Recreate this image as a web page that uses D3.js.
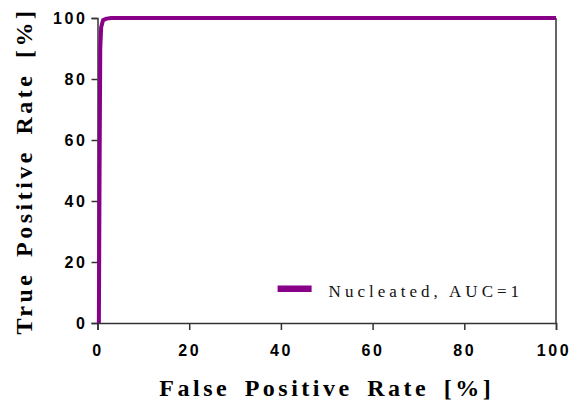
<!DOCTYPE html>
<html>
<head>
<meta charset="utf-8">
<script src="https://cdn.jsdelivr.net/npm/d3@7"></script>
<style>
  body { margin: 0; background: #fff; }
  svg { display: block; }
</style>
</head>
<body>
<div id="chart"></div>
<script>
// ROC curve points (false positive rate %, true positive rate %)
const fpr = [0.3, 0.45, 0.6, 0.8, 1.2, 2, 3, 100];
const tpr = [0, 50, 90, 97, 99.3, 99.8, 100, 100];
const xTicks = [0, 20, 40, 60, 80, 100];
const yTicks = [0, 20, 40, 60, 80, 100];
const seriesName = "Nucleated, AUC=1";

const W = 572, H = 405;
const margin = { top: 18, right: 16, bottom: 82, left: 97.5 };
const width = W - margin.left - margin.right;
const height = H - margin.top - margin.bottom;

const svg = d3.select("#chart")
    .append("svg")
    .attr("width", W)
    .attr("height", H);

const g = svg.append("g")
    .attr("transform", `translate(${margin.left},${margin.top})`);

const x = d3.scaleLinear().domain([0, 100]).range([0, width]);
const y = d3.scaleLinear().domain([0, 100]).range([height, 0]);

const axisColor = "#333";

// x axis
const xAxis = g.append("g")
    .attr("transform", `translate(0,${height})`)
    .call(d3.axisBottom(x).tickValues(xTicks).tickSize(7).tickPadding(15));

// y axis
const yAxis = g.append("g")
    .call(d3.axisLeft(y).tickValues(yTicks).tickSize(6).tickPadding(4));

[xAxis, yAxis].forEach(a => {
    a.select(".domain").attr("stroke", axisColor).attr("stroke-width", 1.5);
    a.selectAll(".tick line").attr("stroke", axisColor).attr("stroke-width", 1.5);
    a.selectAll(".tick text")
        .attr("fill", "#000")
        .attr("font-family", "'Liberation Sans', Arial, sans-serif")
        .attr("font-weight", "bold")
        .attr("font-size", "16px")
        .style("letter-spacing", "2.6px");
});
// keep the last x label inside the page edge
xAxis.selectAll(".tick text").filter(d => d === 100).attr("dx", -2.5);

// right border
g.append("line")
    .attr("x1", width).attr("x2", width)
    .attr("y1", 0).attr("y2", height)
    .attr("stroke", axisColor)
    .attr("stroke-width", 1.5);

// ROC curve
const pts = fpr.map((d, i) => [d, tpr[i]]);
g.append("path")
    .datum(pts)
    .attr("fill", "none")
    .attr("stroke", "#880088")
    .attr("stroke-width", 4)
    .attr("stroke-linejoin", "round")
    .attr("d", d3.line().x(d => x(d[0])).y(d => y(d[1])));

// legend
const legend = g.append("g")
    .attr("transform", `translate(${x(39.5)},${y(11.2)})`);
legend.append("line")
    .attr("x1", -1).attr("x2", 33)
    .attr("y1", 0).attr("y2", 0)
    .attr("stroke", "#880088")
    .attr("stroke-width", 6.5);
legend.append("text")
    .attr("x", 50)
    .attr("y", 8)
    .attr("font-family", "'Liberation Serif', 'Times New Roman', serif")
    .attr("font-size", "17px")
    .style("letter-spacing", "4px")
    .attr("fill", "#111")
    .text(seriesName);

// axis titles
svg.append("text")
    .attr("x", margin.left + width / 2)
    .attr("y", 396)
    .attr("text-anchor", "middle")
    .attr("font-family", "'Liberation Serif', 'Times New Roman', serif")
    .attr("font-weight", "bold")
    .attr("font-size", "24px")
    .style("letter-spacing", "3.5px")
    .style("word-spacing", "5px")
    .text("False Positive Rate [%]");

svg.append("text")
    .attr("transform", `translate(32,171) rotate(-90)`)
    .attr("text-anchor", "middle")
    .attr("font-family", "'Liberation Serif', 'Times New Roman', serif")
    .attr("font-weight", "bold")
    .attr("font-size", "24px")
    .style("letter-spacing", "3.5px")
    .style("word-spacing", "5px")
    .text("True Positive Rate [%]");
</script>
</body>
</html>
